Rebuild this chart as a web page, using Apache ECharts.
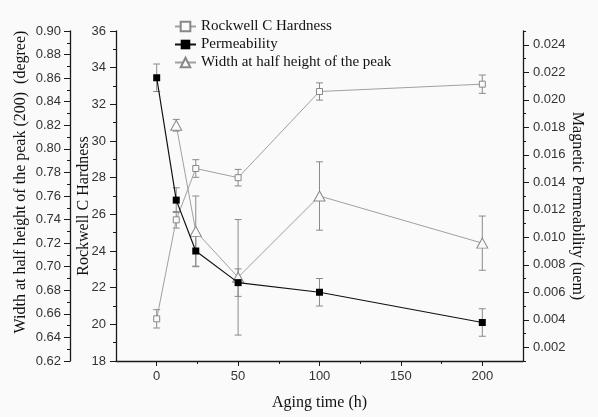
<!DOCTYPE html>
<html>
<head>
<meta charset="utf-8">
<script src="https://cdn.jsdelivr.net/npm/echarts@6/dist/echarts.min.js"></script>
<style>
html,body{margin:0;padding:0;background:#fafafa;}
#chart{width:598px;height:417px;}
</style>
</head>
<body>
<div id="chart"></div>
<script>
// Data
const hours = [0, 12, 24, 50, 100, 200];
const hardness = [20.3, 25.7, 28.5, 28.0, 32.7, 33.1];
const hardnessErr = [0.5, 0.45, 0.48, 0.45, 0.47, 0.5];
const permeability = [0.0216, 0.0127, 0.0090, 0.0067, 0.0060, 0.0038];
const permeabilityErr = [0.001, 0.0009, 0.0011, 0.001, 0.001, 0.001];
const widthHours = [12, 24, 50, 100, 200];
const widthPeak = [0.820, 0.730, 0.691, 0.760, 0.720];
const widthPeakErr = [0.005, 0.030, 0.049, 0.029, 0.023];
const xTickLabels = [0, 50, 100, 150, 200];
const xMinorTicks = [25, 75, 125, 175];
const permTicks = [0.002, 0.004, 0.006, 0.008, 0.010, 0.012, 0.014, 0.016, 0.018, 0.020, 0.022, 0.024];

const serif = 'Liberation Serif';
const sans = 'Liberation Sans';
const axisCol = '#1a1a1a';
const grey = '#a0a0a0';
const errCol = '#8a8a8a';
const bg = '#fafafa';

function pairs(xs, ys) { return xs.map((x, i) => [x, ys[i]]); }
function triples(xs, ys, es) { return xs.map((x, i) => [x, ys[i], es[i]]); }

function errorBar(color) {
  return function (params, api) {
    const x = api.value(0), y = api.value(1), e = api.value(2);
    const t = api.coord([x, y + e]);
    const b = api.coord([x, y - e]);
    const w = 3.5;
    const st = { stroke: color, lineWidth: 1 };
    return {
      type: 'group',
      children: [
        { type: 'line', shape: { x1: t[0], y1: t[1], x2: b[0], y2: b[1] }, style: st },
        { type: 'line', shape: { x1: t[0] - w, y1: t[1], x2: t[0] + w, y2: t[1] }, style: st },
        { type: 'line', shape: { x1: b[0] - w, y1: b[1], x2: b[0] + w, y2: b[1] }, style: st }
      ]
    };
  };
}

const labelStyle = { fontFamily: sans, fontSize: 13, color: '#333' };
const nameStyle = { fontFamily: serif, fontSize: 16, color: '#111' };
const lineStyleAxis = { show: true, onZero: false, lineStyle: { color: axisCol, width: 1.3 } };

const chart = echarts.init(document.getElementById('chart'));
chart.setOption({
  backgroundColor: bg,
  animation: false,
  grid: { left: 116, right: 75, top: 31, bottom: 56 },
  legend: {
    orient: 'vertical',
    left: 174,
    top: 19,
    padding: 0,
    itemGap: 3,
    itemWidth: 21,
    itemHeight: 12,
    textStyle: { fontFamily: serif, fontSize: 15, color: '#111' },
    data: ['Rockwell C Hardness', 'Permeability', 'Width at half height of the peak']
  },
  xAxis: [
    {
      type: 'value', min: -25, max: 225,
      name: 'Aging time (h)', nameLocation: 'middle', nameGap: 34, nameMoveOverlap: false,
      nameTextStyle: nameStyle,
      axisLine: lineStyleAxis,
      axisTick: { show: true, length: 5, customValues: xTickLabels, lineStyle: { color: axisCol } },
      axisLabel: { customValues: xTickLabels, margin: 9, ...labelStyle },
      splitLine: { show: false }
    },
    {
      type: 'value', min: -25, max: 225, position: 'bottom',
      axisLine: { show: false, onZero: false },
      axisTick: { show: true, length: 3, customValues: xMinorTicks, lineStyle: { color: axisCol } },
      axisLabel: { show: false },
      splitLine: { show: false }
    }
  ],
  yAxis: [
    {
      type: 'value', min: 18, max: 36, interval: 2, position: 'left',
      name: 'Rockwell C Hardness', nameLocation: 'middle', nameGap: 24, nameMoveOverlap: false,
      nameTextStyle: { ...nameStyle, padding: [0, 20, 0, 0] },
      axisLine: lineStyleAxis,
      axisTick: { show: true, length: 6, lineStyle: { color: axisCol } },
      minorTick: { show: true, splitNumber: 2, length: 3, lineStyle: { color: axisCol } },
      axisLabel: { margin: 10, ...labelStyle },
      splitLine: { show: false }
    },
    {
      type: 'value', min: 0.62, max: 0.90, interval: 0.02, position: 'left', offset: 46,
      name: 'Width at half height of the peak (200)  (degree)', nameLocation: 'middle', nameGap: 41, nameMoveOverlap: false,
      nameTextStyle: { ...nameStyle, padding: [0, 0, 0, 28] },
      axisLine: lineStyleAxis,
      axisTick: { show: true, length: 6, lineStyle: { color: axisCol } },
      minorTick: { show: true, splitNumber: 2, length: 3, lineStyle: { color: axisCol } },
      axisLabel: { margin: 9, formatter: v => v.toFixed(2), ...labelStyle },
      splitLine: { show: false }
    },
    {
      type: 'value', min: 0.001, max: 0.025, position: 'right',
      name: 'Magnetic Permeability (uem)', nameLocation: 'middle', nameGap: 46, nameRotate: -90, nameMoveOverlap: false,
      nameTextStyle: { ...nameStyle, padding: [0, 0, 0, 20] },
      axisLine: lineStyleAxis,
      axisTick: { show: true, length: 6, customValues: permTicks, lineStyle: { color: axisCol } },
      axisLabel: { customValues: permTicks, margin: 10, formatter: v => v.toFixed(3), ...labelStyle },
      splitLine: { show: false }
    },
    {
      type: 'value', min: 0.001, max: 0.025, interval: 0.001, position: 'right',
      axisLine: { show: false, onZero: false },
      axisTick: { show: true, length: 3, lineStyle: { color: axisCol } },
      axisLabel: { show: false },
      splitLine: { show: false }
    }
  ],
  series: [
    {
      type: 'custom', name: 'hardnessErr', xAxisIndex: 0, yAxisIndex: 0,
      renderItem: errorBar(errCol), encode: { x: 0, y: 1 },
      data: triples(hours, hardness, hardnessErr), z: 1
    },
    {
      type: 'custom', name: 'permErr', xAxisIndex: 0, yAxisIndex: 2,
      renderItem: errorBar(errCol), encode: { x: 0, y: 1 },
      data: triples(hours, permeability, permeabilityErr), z: 1
    },
    {
      type: 'custom', name: 'widthErr', xAxisIndex: 0, yAxisIndex: 1,
      renderItem: errorBar(errCol), encode: { x: 0, y: 1 },
      data: triples(widthHours, widthPeak, widthPeakErr), z: 1
    },
    {
      type: 'line', name: 'Rockwell C Hardness', xAxisIndex: 0, yAxisIndex: 0,
      data: pairs(hours, hardness),
      symbol: 'rect', symbolSize: 6,
      lineStyle: { color: grey, width: 1 },
      itemStyle: { color: bg, borderColor: '#888', borderWidth: 1 },
      z: 3
    },
    {
      type: 'line', name: 'Permeability', xAxisIndex: 0, yAxisIndex: 2,
      data: pairs(hours, permeability),
      symbol: 'rect', symbolSize: 7,
      lineStyle: { color: '#111', width: 1.2 },
      itemStyle: { color: '#000', borderColor: '#000', borderWidth: 0 },
      z: 4
    },
    {
      type: 'line', name: 'Width at half height of the peak', xAxisIndex: 0, yAxisIndex: 1,
      data: pairs(widthHours, widthPeak),
      symbol: 'triangle', symbolSize: [11, 10],
      lineStyle: { color: grey, width: 1 },
      itemStyle: { color: bg, borderColor: '#888', borderWidth: 1 },
      z: 3
    }
  ]
});
</script>
</body>
</html>
